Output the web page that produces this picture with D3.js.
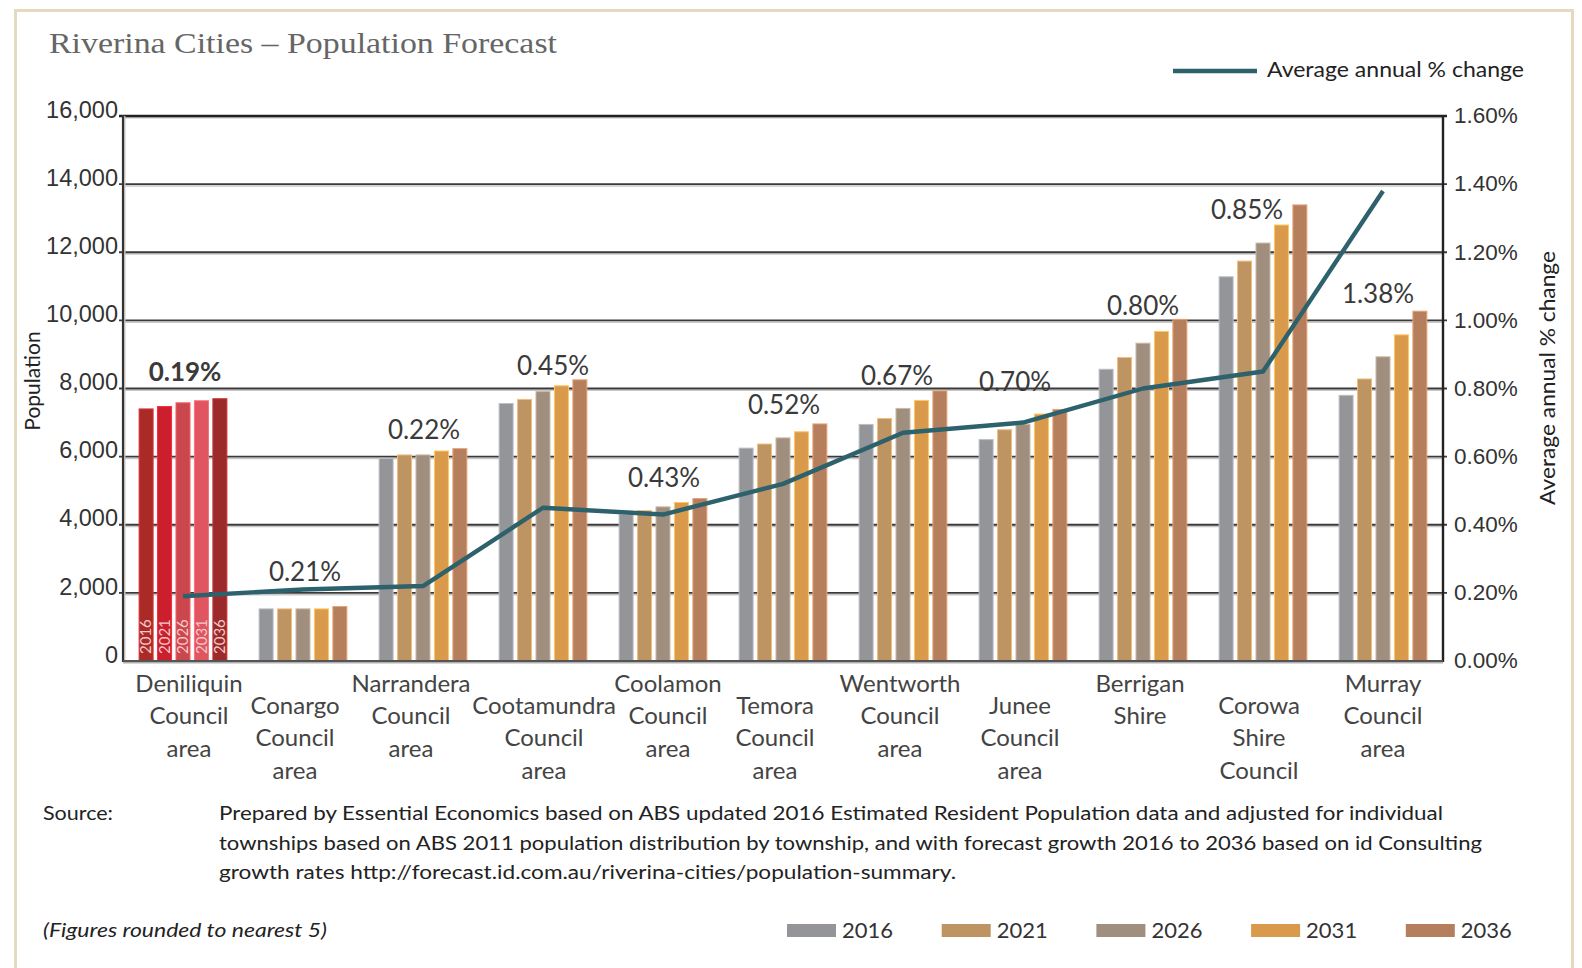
<!DOCTYPE html>
<html>
<head>
<meta charset="utf-8">
<script src="https://cdn.jsdelivr.net/npm/d3@7.9.0/dist/d3.min.js"></script>
<style>
  html, body { margin: 0; padding: 0; background: #fff; }
  svg { display: block; font-family: Lato, "Noto Sans", sans-serif; }
</style>
</head>
<body>
<svg id="chart" width="1582" height="968"></svg>
<script>
// ---- data ----
const categories = [
  ['Deniliquin', 'Council', 'area'],
  ['Conargo', 'Council', 'area'],
  ['Narrandera', 'Council', 'area'],
  ['Cootamundra', 'Council', 'area'],
  ['Coolamon', 'Council', 'area'],
  ['Temora', 'Council', 'area'],
  ['Wentworth', 'Council', 'area'],
  ['Junee', 'Council', 'area'],
  ['Berrigan', 'Shire'],
  ['Corowa', 'Shire', 'Council'],
  ['Murray', 'Council', 'area']
];
const years = ['2016', '2021', '2026', '2031', '2036'];

const pop2016 = [7400, 1530, 5950, 7560, 4300, 6250, 6945, 6500,  8565, 11280, 7800];
const pop2021 = [7470, 1530, 6050, 7680, 4415, 6370, 7120, 6790,  8910, 11740, 8280];
const pop2026 = [7580, 1530, 6050, 7910, 4525, 6550, 7415, 6950,  9330, 12270, 8930];
const pop2031 = [7640, 1530, 6165, 8080, 4655, 6730, 7650, 7250,  9675, 12800, 9575];
const pop2036 = [7700, 1600, 6235, 8255, 4770, 6960, 7930, 7385, 10030, 13390, 10270];

const avgChange = [0.19, 0.21, 0.22, 0.45, 0.43, 0.52, 0.67, 0.70, 0.80, 0.85, 1.38];

const popTicks = [0, 2000, 4000, 6000, 8000, 10000, 12000, 14000, 16000];
const pctTicks = [0, 0.2, 0.4, 0.6, 0.8, 1.0, 1.2, 1.4, 1.6];

const sourceLines = [
  'Prepared by Essential Economics based on ABS updated 2016 Estimated Resident Population data and adjusted for individual',
  'townships based on ABS 2011 population distribution by township, and with forecast growth 2016 to 2036 based on id Consulting',
  'growth rates   http://forecast.id.com.au/riverina-cities/population-summary.'
];

// ---- styles ----
const yearColors   = ['#939598', '#bd9462', '#a08f7e', '#d99b4b', '#b57f5d'];
const highlightCol = ['#a92a27', '#cc1f2d', '#c9474d', '#e05560', '#9b2a2a'];
const lineColor    = '#2d616c';
// hand placement of the % labels and category labels
const labelNudge = [[2,-10],[2,-18],[1,-2],[10,3],[1,-4],[1,-2],[-6,2],[-8,-10],[0,4],[-16,22],[-5,0]];
const catNudge   = [6, -8, -12, 1, 5, -8, -3, -3, -3, -4, 0];
const sourceWidths = [1224, 1263, 737];

const series = [pop2016, pop2021, pop2026, pop2031, pop2036];
const rows = categories.map((c, i) => ({
  idx: i,
  name: c.join(' '),
  lines: c,
  pct: avgChange[i],
  values: years.map((y, k) => ({ year: y, k, value: series[k][i] }))
}));

const svg = d3.select('#chart');
const plotL = 123, plotR = 1443, plotT = 116, plotB = 661;

// frame
svg.append('rect')
  .attr('x', 15.5).attr('y', 10.5)
  .attr('width', 1557).attr('height', 990)
  .attr('fill', '#fff').attr('stroke', '#e4dabd').attr('stroke-width', 3);

// title
svg.append('text')
  .attr('x', 49).attr('y', 53)
  .style('font-family', '"Liberation Serif", serif')
  .style('font-size', '30px')
  .attr('fill', '#666')
  .attr('textLength', 508).attr('lengthAdjust', 'spacingAndGlyphs')
  .text('Riverina Cities \u2013 Population Forecast');

const x0 = d3.scaleBand()
  .domain(rows.map(d => d.name))
  .range([plotL, plotR])
  .paddingInner(0.25).paddingOuter(0.125);
const x1 = d3.scaleBand()
  .domain(years)
  .range([0, x0.bandwidth()])
  .paddingInner(0.24).paddingOuter(0.06);
const yPop = d3.scaleLinear().domain([0, 16000]).range([plotB, plotT]);
const yPct = d3.scaleLinear().domain([0, 1.6]).range([plotB, plotT]);
const cx = d => x0(d.name) + x0.bandwidth() / 2;

// gridlines (with light shadow, like the source)
const grid = svg.append('g');
grid.selectAll('line.sh')
  .data(popTicks.slice(1))
  .join('line')
  .attr('x1', plotL).attr('x2', plotR)
  .attr('y1', d => yPop(d) + 1.8).attr('y2', d => yPop(d) + 1.8)
  .attr('stroke', '#c8c8c8').attr('stroke-width', 1.4);
grid.selectAll('line.g')
  .data(popTicks.slice(1))
  .join('line')
  .attr('x1', plotL - 4).attr('x2', plotR + 4)
  .attr('y1', d => yPop(d)).attr('y2', d => yPop(d))
  .attr('stroke', d => d === 16000 ? '#222' : '#3a3a3a')
  .attr('stroke-width', d => d === 16000 ? 2.4 : 1.8);

// left axis
const gL = svg.append('g')
  .attr('transform', `translate(${plotL},0)`)
  .call(d3.axisLeft(yPop).tickValues(popTicks).tickFormat(d3.format(',')).tickSize(0).tickPadding(5));
gL.select('.domain').remove();
gL.selectAll('text')
  .attr('dy', '0.05em')
  .style('font-size', '23.5px')
  .attr('fill', '#333');

// right axis
const gR = svg.append('g')
  .attr('transform', `translate(${plotR},0)`)
  .call(d3.axisRight(yPct).tickValues(pctTicks).tickFormat(d => d.toFixed(2) + '%').tickSize(0).tickPadding(11));
gR.select('.domain').remove();
gR.selectAll('text')
  .attr('dy', '0.3em')
  .style('font-size', '22.5px')
  .attr('fill', '#333');

// axis frame lines
svg.append('line')
  .attr('x1', plotL + 1.8).attr('x2', plotL + 1.8).attr('y1', plotT).attr('y2', plotB)
  .attr('stroke', '#c8c8c8').attr('stroke-width', 1.4);
svg.append('line')
  .attr('x1', plotL).attr('x2', plotL).attr('y1', plotT - 1).attr('y2', plotB + 1)
  .attr('stroke', '#333').attr('stroke-width', 2.2);
svg.append('line')
  .attr('x1', plotR).attr('x2', plotR).attr('y1', plotT - 1).attr('y2', plotB + 1)
  .attr('stroke', '#222').attr('stroke-width', 2.4);

// bars
const groups = svg.append('g').selectAll('g')
  .data(rows)
  .join('g')
  .attr('transform', d => `translate(${x0(d.name)},0)`);

groups.selectAll('rect')
  .data(d => d.values.map(v => ({ ...v, hi: d.idx === 0 })))
  .join('rect')
  .attr('x', d => x1(d.year))
  .attr('y', d => yPop(d.value))
  .attr('width', x1.bandwidth())
  .attr('height', d => yPop(0) - yPop(d.value))
  .attr('fill', d => d.hi ? highlightCol[d.k] : yearColors[d.k])
  .attr('stroke', d => d3.color(d.hi ? highlightCol[d.k] : yearColors[d.k]).brighter(0.7))
  .attr('stroke-width', 1);

// year labels inside the highlighted group
groups.filter(d => d.idx === 0).selectAll('text.yr')
  .data(d => d.values)
  .join('text')
  .attr('class', 'yr')
  .attr('transform', d => `translate(${x1(d.year) + x1.bandwidth() / 2},${yPop(0) - 7}) rotate(-90)`)
  .attr('dy', '0.35em')
  .style('font-size', '15px')
  .attr('fill', '#f5c9c9')
  .text(d => d.year);

// x baseline
svg.append('line')
  .attr('x1', plotL).attr('x2', plotR).attr('y1', plotB + 1.8).attr('y2', plotB + 1.8)
  .attr('stroke', '#b0b0b0').attr('stroke-width', 1.6);
svg.append('line')
  .attr('x1', plotL).attr('x2', plotR).attr('y1', plotB).attr('y2', plotB)
  .attr('stroke', '#555').attr('stroke-width', 2);

// line series
const line = d3.line()
  .x(d => cx(d))
  .y(d => yPct(d.pct));
svg.append('path')
  .datum(rows)
  .attr('d', line)
  .attr('fill', 'none')
  .attr('stroke', lineColor)
  .attr('stroke-width', 4.4)
  .attr('stroke-linejoin', 'round');

// % labels
svg.append('g').selectAll('text')
  .data(rows)
  .join('text')
  .attr('x', d => cx(d) + labelNudge[d.idx][0])
  .attr('y', d => yPop(d3.max(d.values, v => v.value)) - 8 + labelNudge[d.idx][1])
  .attr('text-anchor', 'middle')
  .style('font-size', '26px')
  .style('font-weight', d => d.idx === 0 ? 700 : 400)
  .attr('fill', '#3a3a3a')
  .text(d => d.pct.toFixed(2) + '%');

// category labels (staggered)
const cat = svg.append('g').selectAll('text')
  .data(rows)
  .join('text')
  .attr('text-anchor', 'middle')
  .style('font-size', '24px')
  .attr('fill', '#444')
  .attr('transform', d => `translate(${cx(d) + catNudge[d.idx]},${d.idx % 2 ? 714 : 692})`);
cat.selectAll('tspan')
  .data(d => d.lines)
  .join('tspan')
  .attr('x', 0)
  .attr('y', (d, i) => i * 32.3)
  .text(d => d);

// axis titles
svg.append('text')
  .attr('transform', 'translate(33,381) rotate(-90)')
  .attr('text-anchor', 'middle').attr('dy', '0.35em')
  .style('font-size', '21px').attr('fill', '#222')
  .text('Population');
svg.append('text')
  .attr('transform', 'translate(1547,378) rotate(-90)')
  .attr('text-anchor', 'middle').attr('dy', '0.35em')
  .style('font-size', '22px').attr('fill', '#222')
  .attr('textLength', 254).attr('lengthAdjust', 'spacingAndGlyphs')
  .text('Average annual % change');

// top legend
svg.append('line')
  .attr('x1', 1173).attr('x2', 1257).attr('y1', 71).attr('y2', 71)
  .attr('stroke', lineColor).attr('stroke-width', 4.4);
svg.append('text')
  .attr('x', 1267).attr('y', 77)
  .style('font-size', '21.5px').attr('fill', '#222')
  .attr('textLength', 257).attr('lengthAdjust', 'spacingAndGlyphs')
  .text('Average annual % change');

// source note
svg.append('text')
  .attr('x', 43).attr('y', 820)
  .style('font-size', '19.5px').attr('fill', '#222')
  .attr('textLength', 70).attr('lengthAdjust', 'spacingAndGlyphs')
  .text('Source:');
svg.append('g').selectAll('text')
  .data(sourceLines)
  .join('text')
  .attr('x', 219)
  .attr('y', (d, i) => 820 + i * 29.5)
  .attr('textLength', (d, i) => sourceWidths[i])
  .attr('lengthAdjust', 'spacingAndGlyphs')
  .style('font-size', '19.5px').attr('fill', '#222')
  .text(d => d);

svg.append('text')
  .attr('x', 43).attr('y', 937)
  .style('font-size', '20px').style('font-style', 'italic').attr('fill', '#222')
  .attr('textLength', 284).attr('lengthAdjust', 'spacingAndGlyphs')
  .text('(Figures rounded to nearest 5)');

// bottom legend
const leg = svg.append('g').selectAll('g')
  .data(years)
  .join('g')
  .attr('transform', (d, i) => `translate(${787 + i * 154.7},924)`);
leg.append('rect')
  .attr('width', 49).attr('height', 13)
  .attr('fill', (d, i) => yearColors[i]);
leg.append('text')
  .attr('x', 55).attr('y', 14)
  .style('font-size', '22px').attr('fill', '#333')
  .text(d => d);
</script>
</body>
</html>
